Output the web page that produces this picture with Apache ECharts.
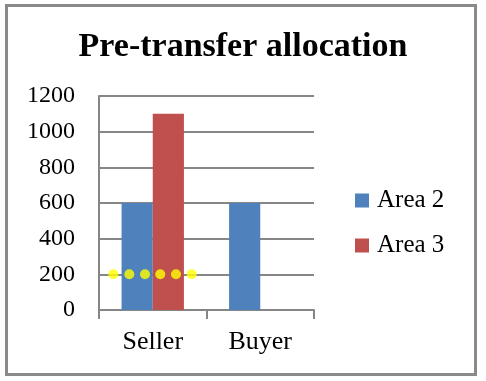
<!DOCTYPE html>
<html><head><meta charset="utf-8">
<script src="https://cdn.jsdelivr.net/npm/echarts@6/dist/echarts.min.js"></script>
<style>
html,body{margin:0;padding:0;background:#fff;}
#frame{position:absolute;left:5px;top:4px;width:466px;height:366px;border:3px solid #8a8a8a;}
#c{position:absolute;left:0;top:0;width:486px;height:381px;}
</style></head><body>
<div id="frame"></div>
<div id="c"></div>
<script>
const categories = ['Seller', 'Buyer'];
const area2 = [600, 600];
const area3 = [1100, 0];
const yTicks = [0, 200, 400, 600, 800, 1000, 1200];
const dotX = [0.133, 0.282, 0.428, 0.570, 0.716, 0.862];
const dotY = [200, 200, 200, 200, 200, 200];

const chart = echarts.init(document.getElementById('c'), null, {renderer:'canvas'});
const serif = '"Liberation Serif","Times New Roman",serif';
chart.setOption({
  animation:false,
  backgroundColor:'transparent',
  title:{text:'Pre-transfer allocation', left:'center', top:25,
    textStyle:{fontFamily:serif, fontWeight:'bold', fontSize:34, color:'#000'}},
  legend:{orient:'vertical', left:350, top:183, itemWidth:14, itemHeight:14, itemGap:20,
    icon:'rect', data:['Area 2','Area 3'],
    textStyle:{fontFamily:serif, fontSize:25, color:'#000', padding:[0,0,0,3]}},
  grid:{left:99, right:172, top:96, bottom:71, containLabel:false},
  xAxis:[{type:'category', data:categories,
    axisLine:{lineStyle:{color:'#868686', width:2}},
    axisTick:{show:true, length:9, lineStyle:{color:'#868686', width:2}},
    axisLabel:{fontFamily:serif, fontSize:26, color:'#000', margin:19}},
    {type:'value', min:0, max:2, show:false}],
  yAxis:{type:'value', min:yTicks[0], max:yTicks[yTicks.length-1], interval:200,
    axisLine:{show:true, lineStyle:{color:'#868686', width:2}},
    axisTick:{show:false},
    splitLine:{lineStyle:{color:'#868686', width:2}},
    axisLabel:{fontFamily:serif, fontSize:24, color:'#000', margin:24,
      formatter:(v)=>String(v)}},
  series:[
    {name:'Area 2', type:'bar', data:area2, barGap:'0%', barCategoryGap:'42%',
      itemStyle:{color:'#4F81BD'}},
    {name:'Area 3', type:'bar', data:area3, barGap:'0%', barCategoryGap:'42%',
      itemStyle:{color:'#C0504D'}},
    {name:'dots', type:'scatter', xAxisIndex:1, data:dotX.map((x,i)=>[x,dotY[i]]),
      symbol:'circle', symbolSize:10, itemStyle:{color:'#FFFF00'}, z:5}
  ]
});
</script></body></html>
